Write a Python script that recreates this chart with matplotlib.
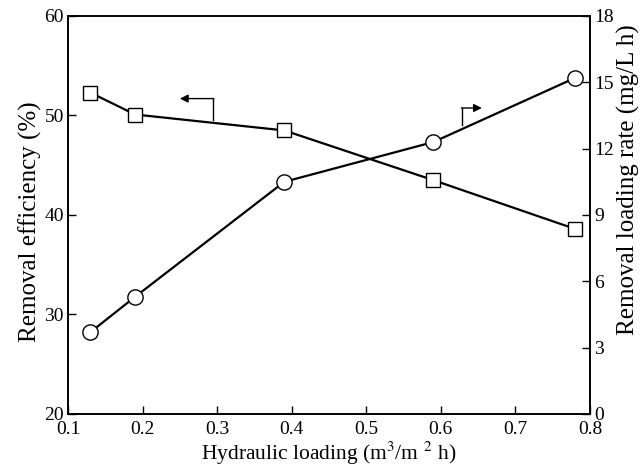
import matplotlib
matplotlib.use("Agg")
import matplotlib.pyplot as plt

hydraulic_loading = [0.13, 0.19, 0.39, 0.59, 0.78]
removal_efficiency = [52.3, 50.1, 48.5, 43.5, 38.6]
removal_loading_rate = [3.7, 5.3, 10.5, 12.3, 15.2]

x_ticks = [0.1, 0.2, 0.3, 0.4, 0.5, 0.6, 0.7, 0.8]
left_ticks = [20, 30, 40, 50, 60]
right_ticks = [0, 3, 6, 9, 12, 15, 18]

plt.rcParams['font.family'] = ['Liberation Serif', 'DejaVu Serif']
plt.rcParams['mathtext.fontset'] = 'stix'

fig = plt.figure(figsize=(6.44, 4.66), dpi=100)
ax = fig.add_axes([68/644, 52/466, (590-68)/644, (414-16)/466])
ax2 = ax.twinx()

ax.plot(hydraulic_loading, removal_efficiency, color='black', lw=1.6,
        marker='s', markersize=10, markerfacecolor='white',
        markeredgecolor='black', markeredgewidth=1.0, zorder=3)
ax2.plot(hydraulic_loading, removal_loading_rate, color='black', lw=1.6,
         marker='o', markersize=11, markerfacecolor='white',
         markeredgecolor='black', markeredgewidth=1.0, zorder=3)

ax.set_xlim(0.1, 0.8)
ax.set_ylim(20, 60)
ax2.set_ylim(0, 18)
ax.set_xticks(x_ticks)
ax.set_xticklabels([f"{t:.1f}" for t in x_ticks])
ax.set_yticks(left_ticks)
ax2.set_yticks(right_ticks)

for a in (ax, ax2):
    a.tick_params(direction='in', length=6, width=1.0, labelsize=14, pad=3)
    for s in a.spines.values():
        s.set_linewidth(1.2)
ax.tick_params(axis='x', pad=5)

ax.set_xlabel("Hydraulic loading (m$^3$/m $^2$ h)", fontsize=15.5)
ax.set_ylabel("Removal efficiency (%)", fontsize=18)
ax2.set_ylabel("Removal loading rate (mg/L h)", fontsize=18)

ax.xaxis.set_label_coords(0.5, (414 - 453) / 398)
ax.xaxis.label.set_va('center')
ax.yaxis.set_label_coords((30 - 68) / 522, (414 - 222) / 398)
ax.yaxis.label.set_va('center')
ax2.yaxis.set_label_coords((628 - 68) / 522, (414 - 180) / 398)
ax2.yaxis.label.set_va('center')

# left-pointing arrow for the efficiency series
ax.plot([0.295, 0.295], [49.55, 51.7], color='black', lw=1.0)
ax.annotate('', xy=(0.25, 51.7), xytext=(0.2955, 51.7),
            arrowprops=dict(arrowstyle='-|>', color='black', lw=1.0,
                            mutation_scale=12, shrinkA=0, shrinkB=0))
# right-pointing arrow for the loading-rate series
ax2.plot([0.628, 0.628], [13.07, 13.84], color='black', lw=1.0)
ax2.annotate('', xy=(0.655, 13.84), xytext=(0.6275, 13.84),
             arrowprops=dict(arrowstyle='-|>', color='black', lw=1.0,
                             mutation_scale=12, shrinkA=0, shrinkB=0))

fig.savefig("out.png", dpi=100)
